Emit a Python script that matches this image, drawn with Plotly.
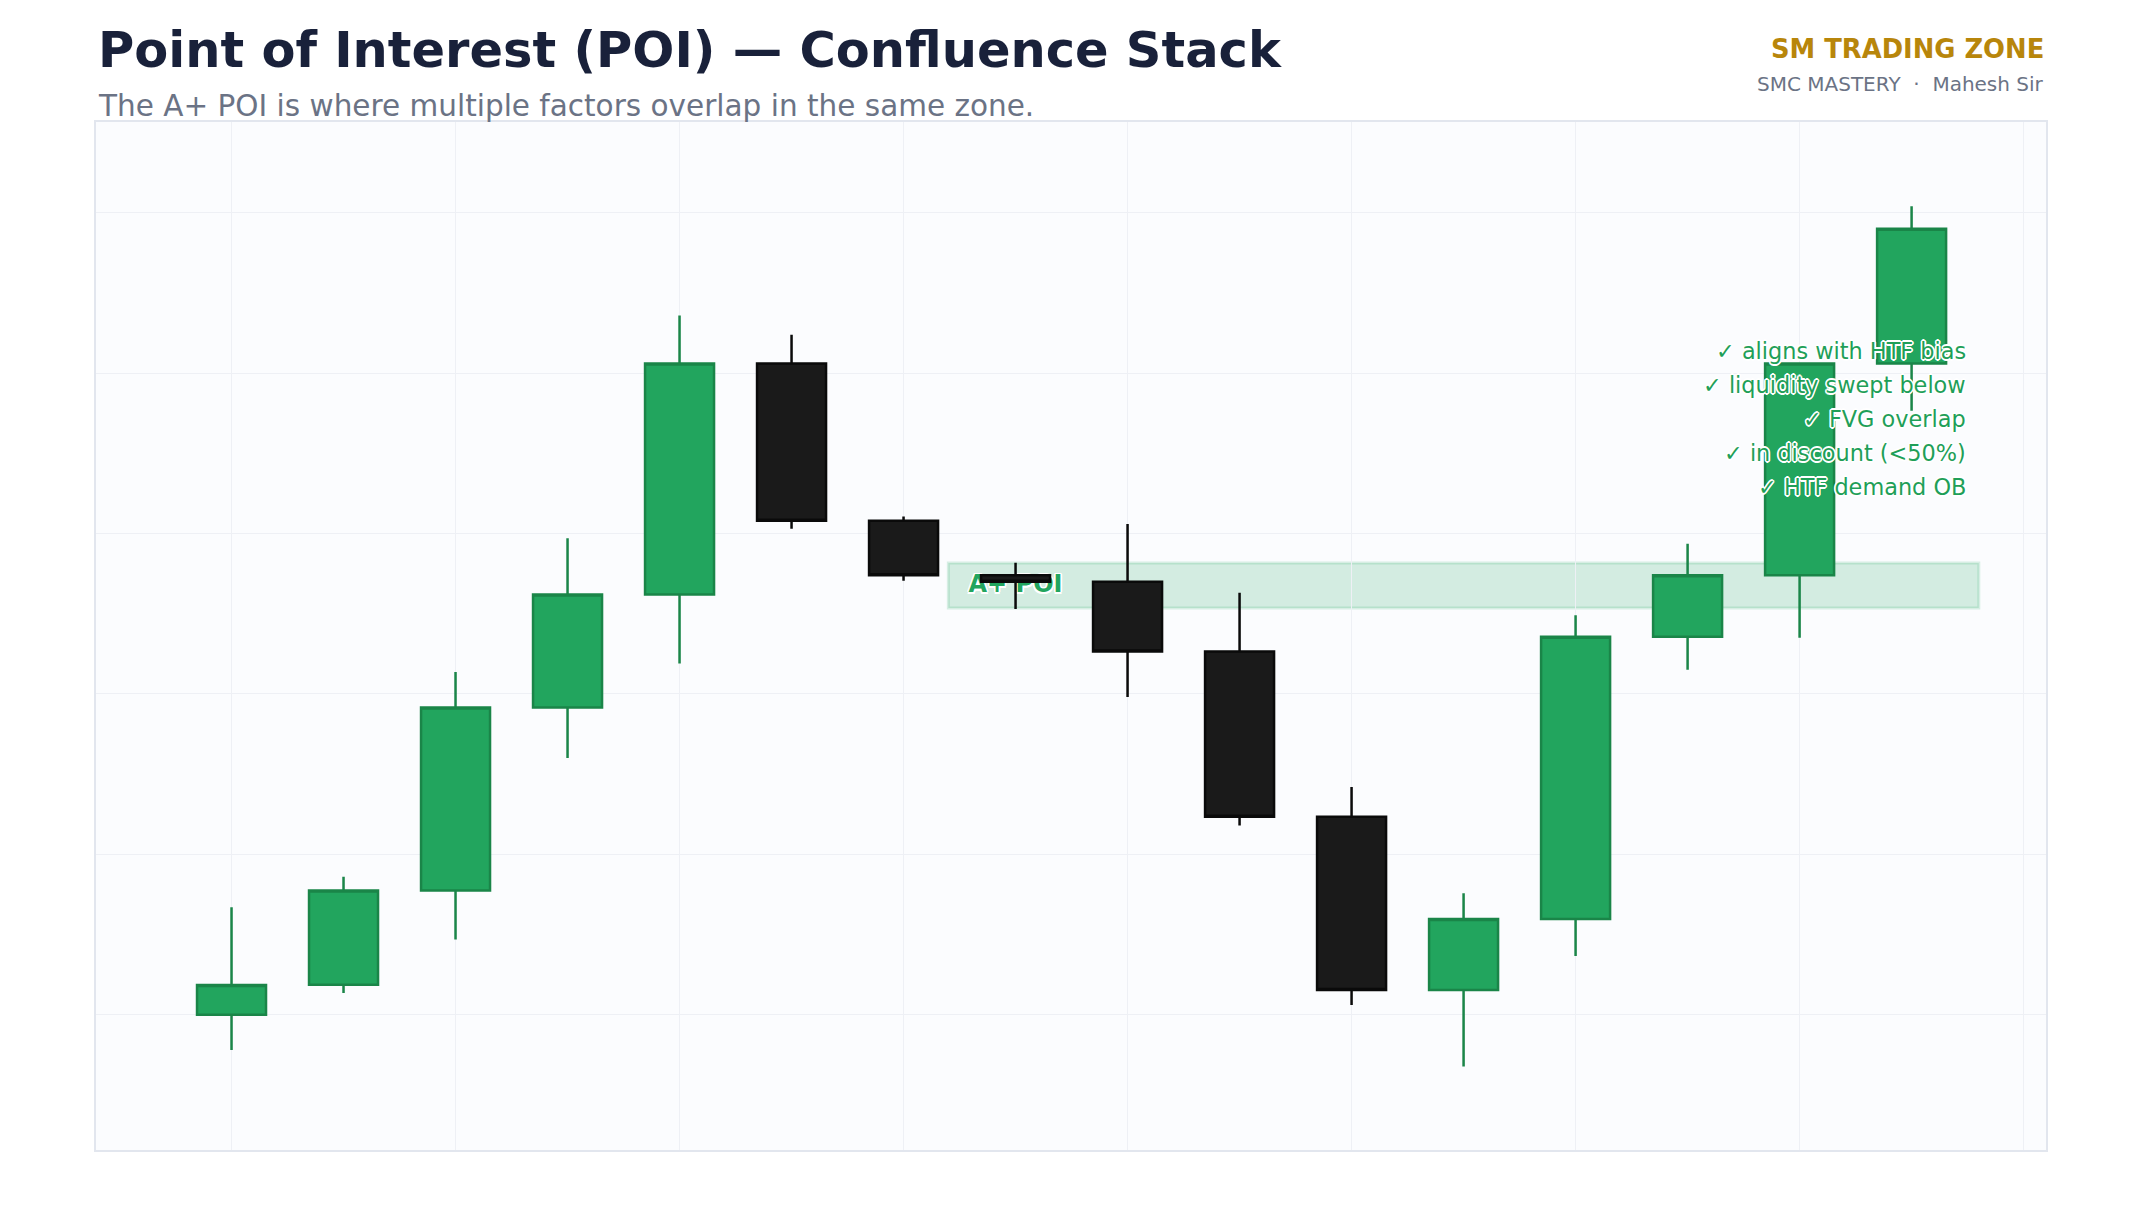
import plotly.graph_objects as go

# ---- data ----
candle_idx = list(range(16))
opens  = [100.0, 101.87, 107.74, 119.15, 126.2, 140.6, 130.8, 127.4, 127.0, 122.64, 112.34, 101.53, 105.96, 123.57, 127.4, 140.6]
highs  = [106.7, 108.6, 121.36, 129.7, 143.6, 142.4, 131.06, 128.17, 130.6, 126.3, 114.2, 107.57, 124.9, 129.36, 140.6, 150.4]
lows   = [97.8, 101.35, 104.68, 116.0, 121.9, 130.3, 127.06, 125.3, 119.8, 111.8, 100.6, 96.77, 103.66, 121.5, 123.5, 137.65]
closes = [101.85, 107.74, 119.15, 126.2, 140.6, 130.8, 127.4, 127.0, 122.64, 112.34, 101.53, 105.96, 123.57, 127.4, 140.6, 149.0]

zone_start, zone_end = 6.4, 15.6
zone_low, zone_high = 125.36, 128.16
zone_label = "A+ POI"
zone_label_x, zone_label_y = 6.58, 126.7

checklist = ["✓ aligns with HTF bias", "✓ liquidity swept below", "✓ FVG overlap",
             "✓ in discount (<50%)", "✓ HTF demand OB"]
checklist_y = [141.39, 139.26, 137.13, 135.0, 132.87]
checklist_x = 15.5

title = "Point of Interest (POI) — Confluence Stack"
subtitle = "The A+ POI is where multiple factors overlap in the same zone."
brand = "SM TRADING ZONE"
brand_sub = "SMC MASTERY  ·  Mahesh Sir"

X_RANGE = [-1.21, 16.2]
Y_RANGE = [91.56, 155.66]

# ---- styles ----
GREEN = "#22a55e"
GREEN_LINE = "#1a8548"
BLACK = "#1a1a1a"
FONT = "DejaVu Sans"
OUTLINE = ("1.6px 0 0 #fff, -1.6px 0 0 #fff, 0 1.6px 0 #fff, 0 -1.6px 0 #fff, "
           "1.2px 1.2px 0 #fff, -1.2px -1.2px 0 #fff, 1.2px -1.2px 0 #fff, -1.2px 1.2px 0 #fff")

fig = go.Figure()

# label on base axes (drawn beneath candles)
fig.add_trace(go.Scatter(
    x=[zone_label_x], y=[zone_label_y], mode="text", text=[zone_label],
    textposition="middle right",
    textfont=dict(family=FONT, size=24, color=GREEN, weight="bold", shadow=OUTLINE),
    hoverinfo="skip", showlegend=False, xaxis="x", yaxis="y",
))

# candles on overlay axes (drawn above label)
fig.add_trace(go.Candlestick(
    x=candle_idx, open=opens, high=highs, low=lows, close=closes,
    increasing=dict(fillcolor=GREEN, line=dict(color=GREEN_LINE, width=2.5)),
    decreasing=dict(fillcolor=BLACK, line=dict(color="#0a0a0a", width=2.5)),
    whiskerwidth=0, showlegend=False, xaxis="x2", yaxis="y2",
))

fig.add_shape(type="rect", xref="x", yref="y",
              x0=zone_start, x1=zone_end, y0=zone_low, y1=zone_high,
              fillcolor="rgba(34,165,94,0.18)",
              line=dict(color="rgba(34,165,94,0.16)", width=3), layer="below")

annotations = []
for txt, yy in zip(checklist, checklist_y):
    annotations.append(dict(
        x=checklist_x, y=yy, xref="x", yref="y", text=txt, showarrow=False,
        xanchor="right", yanchor="middle",
        font=dict(family=FONT, size=22.4, color="#1f9f58", shadow=OUTLINE),
    ))

PLOT_TOP = 122
PLOT_H = 1028
def py(px):
    return 1 + (PLOT_TOP - px) / PLOT_H

annotations += [
    dict(x=0, y=py(49.5), xref="paper", yref="paper", text=f"<b>{title}</b>",
         showarrow=False, xanchor="left", yanchor="middle",
         font=dict(family=FONT, size=49.5, color="#19213a")),
    dict(x=0, y=py(105.5), xref="paper", yref="paper", text=subtitle,
         showarrow=False, xanchor="left", yanchor="middle",
         font=dict(family=FONT, size=29.5, color="#6b7385")),
    dict(x=1, y=py(49.3), xref="paper", yref="paper", text=f"<b>{brand}</b>",
         showarrow=False, xanchor="right", yanchor="middle",
         font=dict(family=FONT, size=25.8, color="#b8860b")),
    dict(x=1, y=py(84.5), xref="paper", yref="paper", text=brand_sub,
         showarrow=False, xanchor="right", yanchor="middle",
         font=dict(family=FONT, size=20, color="#6b7385")),
]

fig.update_layout(
    width=2142, height=1224,
    margin=dict(l=96, r=96, t=122, b=74),
    paper_bgcolor="white", plot_bgcolor="#fbfcfe",
    showlegend=False, annotations=annotations,
    boxgap=0.12, boxgroupgap=0.3,
    font=dict(family=FONT),
    xaxis=dict(range=X_RANGE, tick0=0, dtick=2, showticklabels=False, ticks="",
               showgrid=True, gridcolor="#eef0f5", gridwidth=1, zeroline=False,
               showline=True, linecolor="#e2e6ee", linewidth=2, mirror=True),
    yaxis=dict(range=Y_RANGE, tick0=0, dtick=10, showticklabels=False, ticks="",
               showgrid=True, gridcolor="#eef0f5", gridwidth=1, zeroline=False,
               showline=True, linecolor="#e2e6ee", linewidth=2, mirror=True),
    xaxis2=dict(range=X_RANGE, overlaying="x", showgrid=False, showticklabels=False,
                ticks="", zeroline=False, showline=False,
                rangeslider=dict(visible=False)),
    yaxis2=dict(range=Y_RANGE, overlaying="y", showgrid=False, showticklabels=False,
                ticks="", zeroline=False, showline=False),
)

fig.write_html("out.html")
